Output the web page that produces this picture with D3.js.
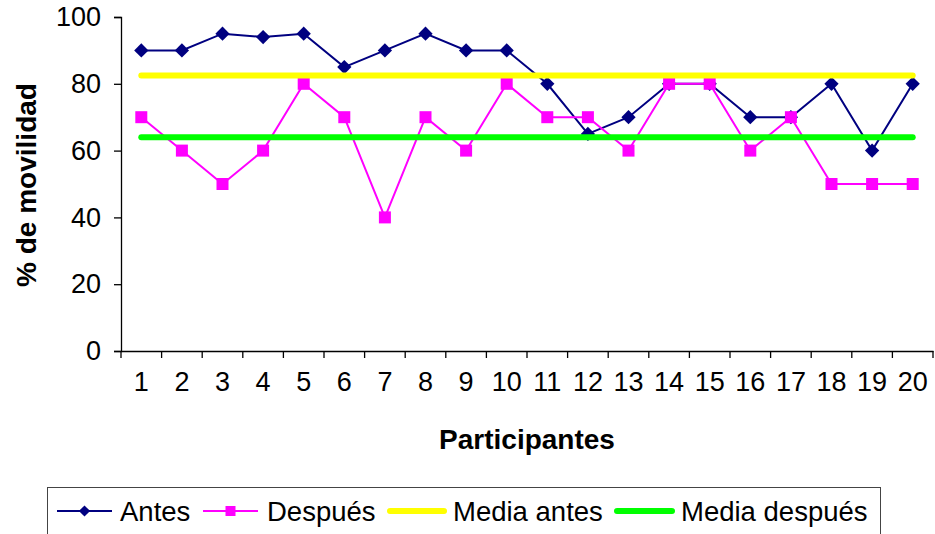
<!DOCTYPE html>
<html>
<head>
<meta charset="utf-8">
<script src="https://cdn.jsdelivr.net/npm/d3@7"></script>
<style>
  html, body { margin: 0; padding: 0; background: #fff; }
  svg { display: block; font-family: "Liberation Sans", Arial, sans-serif; }
</style>
</head>
<body>
<svg id="chart" width="935" height="534"></svg>
<script>
const participantes = ["1","2","3","4","5","6","7","8","9","10","11","12","13","14","15","16","17","18","19","20"];
const antes   = [90, 90, 95, 94, 95, 85, 90, 95, 90, 90, 80, 65, 70, 80, 80, 70, 70, 80, 60, 80];
const despues = [70, 60, 50, 60, 80, 70, 40, 70, 60, 80, 70, 70, 60, 80, 80, 60, 70, 50, 50, 50];
const mediaAntes   = [82.45, 82.45];
const mediaDespues = [64, 64];
const yTicks = [0, 20, 40, 60, 80, 100];
const seriesNames = ["Antes", "Después", "Media antes", "Media después"];

(function () {
const svg = d3.select("#chart");
const pLeft = 121, pRight = 933, pTop = 17, pBottom = 351;

const x = d3.scaleBand().domain(participantes).range([pLeft, pRight]).padding(0);
const cx = d => x(d) + x.bandwidth() / 2;
const y = d3.scaleLinear().domain([0, 100]).range([pBottom, pTop]);

// Y axis
const yAxis = svg.append("g").attr("transform", `translate(${pLeft},0)`)
  .call(d3.axisLeft(y).tickValues(yTicks).tickSize(7).tickPadding(13));
yAxis.select(".domain").attr("stroke", "#000").attr("stroke-width", 1.3);
yAxis.selectAll(".tick line").attr("stroke", "#000").attr("stroke-width", 1.3);
yAxis.selectAll("text").attr("font-size", 27).attr("fill", "#000")
  .attr("font-family", "Liberation Sans, Arial, sans-serif");

// X axis
const xAxis = svg.append("g").attr("transform", `translate(0,${pBottom})`)
  .call(d3.axisBottom(x).tickSize(0).tickPadding(21));
xAxis.select(".domain").attr("stroke", "#000").attr("stroke-width", 1.3);
xAxis.selectAll("text").attr("font-size", 27).attr("fill", "#000")
  .attr("font-family", "Liberation Sans, Arial, sans-serif");
const edges = participantes.map(d => x(d)).concat([x(participantes[participantes.length - 1]) + x.bandwidth()]);
xAxis.selectAll("line.edge").data(edges).enter().append("line")
  .attr("class", "edge")
  .attr("x1", d => d).attr("x2", d => d)
  .attr("y1", 0).attr("y2", 7)
  .attr("stroke", "#000").attr("stroke-width", 1.3);

// Axis titles
svg.append("text")
  .attr("transform", `translate(36,185) rotate(-90)`)
  .attr("text-anchor", "middle")
  .attr("font-size", 28).attr("font-weight", "bold").attr("fill", "#000")
  .text("% de movilidad");
svg.append("text")
  .attr("x", 527).attr("y", 449)
  .attr("text-anchor", "middle")
  .attr("font-size", 28).attr("font-weight", "bold").attr("fill", "#000")
  .text("Participantes");

const line = d3.line().x(d => cx(d.c)).y(d => y(d.v));
const antesData = participantes.map((c, i) => ({ c, v: antes[i] }));
const despData = participantes.map((c, i) => ({ c, v: despues[i] }));

// Antes
svg.append("path").datum(antesData).attr("d", line)
  .attr("fill", "none").attr("stroke", "#000080").attr("stroke-width", 2);
svg.selectAll("path.diamond").data(antesData).enter().append("path")
  .attr("class", "diamond")
  .attr("d", d3.symbol().type(d3.symbolDiamond2).size(130))
  .attr("transform", d => `translate(${cx(d.c)},${y(d.v)})`)
  .attr("fill", "#000080");

// Después
svg.append("path").datum(despData).attr("d", line)
  .attr("fill", "none").attr("stroke", "#FF00FF").attr("stroke-width", 2);
svg.selectAll("rect.sq").data(despData).enter().append("rect")
  .attr("class", "sq")
  .attr("x", d => cx(d.c) - 6).attr("y", d => y(d.v) - 6)
  .attr("width", 12).attr("height", 12)
  .attr("fill", "#FF00FF");

// Mean lines
const first = participantes[0], last = participantes[participantes.length - 1];
svg.append("path").datum([{ c: first, v: mediaAntes[0] }, { c: last, v: mediaAntes[1] }])
  .attr("d", line).attr("fill", "none").attr("stroke", "#FFFF00")
  .attr("stroke-width", 6).attr("stroke-linecap", "round");
svg.append("path").datum([{ c: first, v: mediaDespues[0] }, { c: last, v: mediaDespues[1] }])
  .attr("d", line).attr("fill", "none").attr("stroke", "#00FF00")
  .attr("stroke-width", 6).attr("stroke-linecap", "round");

// Legend
const lg = svg.append("g");
lg.append("rect").attr("x", 47.5).attr("y", 487.5).attr("width", 833).attr("height", 60)
  .attr("fill", "#fff").attr("stroke", "#444").attr("stroke-width", 1);
const ly = 511;
const items = [
  { name: seriesNames[0], x1: 57, x2: 112, color: "#000080", w: 2, marker: "diamond", tx: 120 },
  { name: seriesNames[1], x1: 203, x2: 258, color: "#FF00FF", w: 2, marker: "square", tx: 267 },
  { name: seriesNames[2], x1: 390, x2: 444, color: "#FFFF00", w: 6, marker: null, tx: 453 },
  { name: seriesNames[3], x1: 617, x2: 672, color: "#00FF00", w: 6, marker: null, tx: 681 }
];
items.forEach(it => {
  lg.append("line").attr("x1", it.x1).attr("x2", it.x2).attr("y1", ly).attr("y2", ly)
    .attr("stroke", it.color).attr("stroke-width", it.w)
    .attr("stroke-linecap", it.w > 3 ? "round" : "butt");
  const mx = (it.x1 + it.x2) / 2;
  if (it.marker === "diamond") {
    lg.append("path").attr("d", d3.symbol().type(d3.symbolDiamond2).size(80))
      .attr("transform", `translate(${mx},${ly})`).attr("fill", it.color);
  } else if (it.marker === "square") {
    lg.append("rect").attr("x", mx - 5).attr("y", ly - 5).attr("width", 10).attr("height", 10)
      .attr("fill", it.color);
  }
  lg.append("text").attr("x", it.tx).attr("y", 521)
    .attr("font-size", 27.5).attr("fill", "#000").text(it.name);
});
})();
</script>
</body>
</html>
